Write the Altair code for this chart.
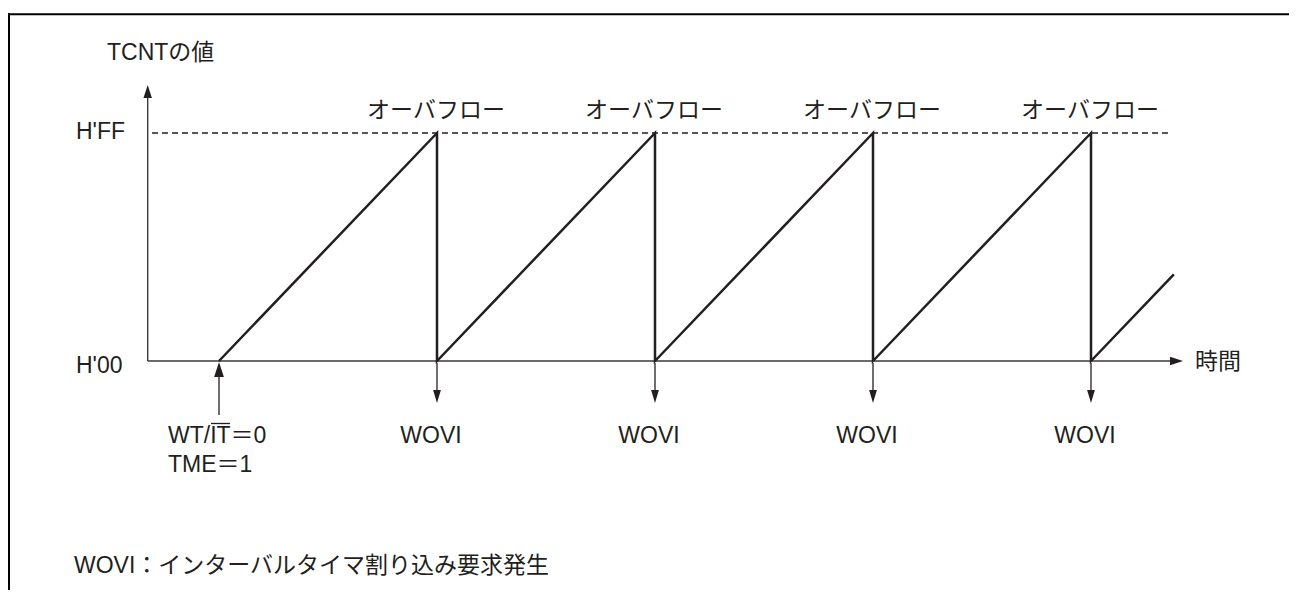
import altair as alt
import pandas as pd

# ---- data (time in overflow periods, counter value 0..255) ----
saw_t = [0, 1, 1, 2, 2, 3, 3, 4, 4, 4.38]
saw_v = [0, 255, 0, 255, 0, 255, 0, 255, 0, 97]
overflow_t = [1, 2, 3, 4]
start_t = [0]
hff_value = [255]
overflow_label = "オーバフロー"
wovi_label = "WOVI"
y_title = "TCNTの値"
x_title = "時間"
tick_labels = ["H'FF", "H'00"]
start_labels = ["WT/IT＝0", "TME＝1"]
note_text = "WOVI：インターバルタイマ割り込み要求発生"

W, H = 1281, 582
FONT = "Arial, 'Liberation Sans', 'Noto Sans CJK JP', sans-serif"
FS = 23
INK = "#231f20"
AX = "#3a3a3a"

# x: t=0 -> px 211, 218 px per period ; y: v=0 -> px 353, v=255 -> px 125
PX_T = 218.0
x0 = -211.0 / PX_T
xs = alt.Scale(domain=[x0, x0 + W / PX_T], range=[0, W], zero=False, nice=False)
PX_V = 228.0 / 255.0
ys = alt.Scale(domain=[-(H - 353) / PX_V, 353 / PX_V], range=[H, 0], zero=False, nice=False)

saw = pd.DataFrame({"t": saw_t, "v": saw_v, "i": list(range(len(saw_t)))})
ovf = pd.DataFrame({"t": overflow_t})
st = pd.DataFrame({"t": start_t})
hff = pd.DataFrame({"v": hff_value})
dummy = pd.DataFrame({"a": [0]})

UP = "M0,-1L0.65,1L-0.65,1Z"
DOWN = "M0,1L0.6,-1L-0.6,-1Z"
RIGHT = "M1,0L-1,-0.65L-1,0.65Z"


def note(text, x, y, align="left"):
    return alt.Chart(pd.DataFrame({"s": [text]})).mark_text(
        font=FONT, fontSize=FS, align=align, baseline="middle", color=INK
    ).encode(x=alt.value(x), y=alt.value(y), text="s:N")


def prule(x, y, x2=None, y2=None, w=1.3, color=AX):
    enc = dict(x=alt.value(x), y=alt.value(y))
    if x2 is not None:
        enc["x2"] = alt.value(x2)
    if y2 is not None:
        enc["y2"] = alt.value(y2)
    return alt.Chart(dummy).mark_rule(color=color, strokeWidth=w).encode(**enc)


def phead(shape, x, y, size):
    return alt.Chart(dummy).mark_point(
        shape=shape, filled=True, size=size, color=INK, opacity=1, strokeWidth=0
    ).encode(x=alt.value(x), y=alt.value(y))


# frame
frame_top = prule(0, 6.3, x2=W, w=2, color="#000")
frame_left = prule(1, 5.3, y2=H, w=2, color="#000")

# axes
y_axis = prule(139.7, 88, y2=353, w=1.4)
y_head = phead(UP, 139.7, 83.5, 169)
x_axis = prule(139.7, 353, x2=1166, w=1.4)
x_head = phead(RIGHT, 1168.5, 353, 169)

# H'FF dashed line
hff_line = alt.Chart(hff).mark_rule(color=INK, strokeWidth=1.3, strokeDash=[6, 4]).encode(
    y=alt.Y("v:Q", scale=ys, axis=None), x=alt.value(144), x2=alt.value(1162)
)

# sawtooth
saw_line = alt.Chart(saw).mark_line(color=INK, strokeWidth=2.5, strokeJoin="miter").encode(
    x=alt.X("t:Q", scale=xs, axis=None),
    y=alt.Y("v:Q", scale=ys, axis=None),
    order=alt.Order("i:Q"),
)

# overflow arrows (down)
ov_rule = alt.Chart(ovf).mark_rule(color=INK, strokeWidth=1.3).encode(
    x=alt.X("t:Q", scale=xs, axis=None), y=alt.value(355), y2=alt.value(384)
)
ov_head = alt.Chart(ovf).mark_point(
    shape=DOWN, filled=True, size=169, color=INK, opacity=1, strokeWidth=0
).encode(x=alt.X("t:Q", scale=xs, axis=None), y=alt.value(388.5))
ov_wovi = alt.Chart(ovf).transform_calculate(s=f"'{wovi_label}'").mark_text(
    font=FONT, fontSize=FS, align="center", baseline="middle", color=INK, dx=-6
).encode(x=alt.X("t:Q", scale=xs, axis=None), y=alt.value(428), text="s:N")
ov_text = alt.Chart(ovf).transform_calculate(s=f"'{overflow_label}'").mark_text(
    font=FONT, fontSize=FS, align="center", baseline="middle", color=INK, dx=-1
).encode(x=alt.X("t:Q", scale=xs, axis=None), y=alt.value(103), text="s:N")

# start arrow (up)
st_rule = alt.Chart(st).mark_rule(color=INK, strokeWidth=1.3).encode(
    x=alt.X("t:Q", scale=xs, axis=None), y=alt.value(366), y2=alt.value(407)
)
st_head = alt.Chart(st).mark_point(
    shape=UP, filled=True, size=225, color=INK, opacity=1, strokeWidth=0
).encode(x=alt.X("t:Q", scale=xs, axis=None), y=alt.value(361.5))

# labels
texts = [
    note(y_title, 99, 45),
    note(tick_labels[0], 68, 124),
    note(tick_labels[1], 68, 358),
    note(x_title, 1187, 354),
    note(start_labels[0], 160, 428),
    note(start_labels[1], 160, 457),
    note(note_text, 66, 558),
]
overline = prule(203, 415.5, x2=222, w=1.3, color=INK)

chart = alt.layer(
    frame_top, frame_left, y_axis, y_head, x_axis, x_head, hff_line, saw_line,
    ov_rule, ov_head, ov_wovi, ov_text, st_rule, st_head, overline, *texts
).properties(
    width=W, height=H, autosize=alt.AutoSizeParams(type="none"), padding=0, background="white"
).configure_view(stroke=None)

chart.save("out.html", embed_options={"renderer": "svg", "actions": False})
